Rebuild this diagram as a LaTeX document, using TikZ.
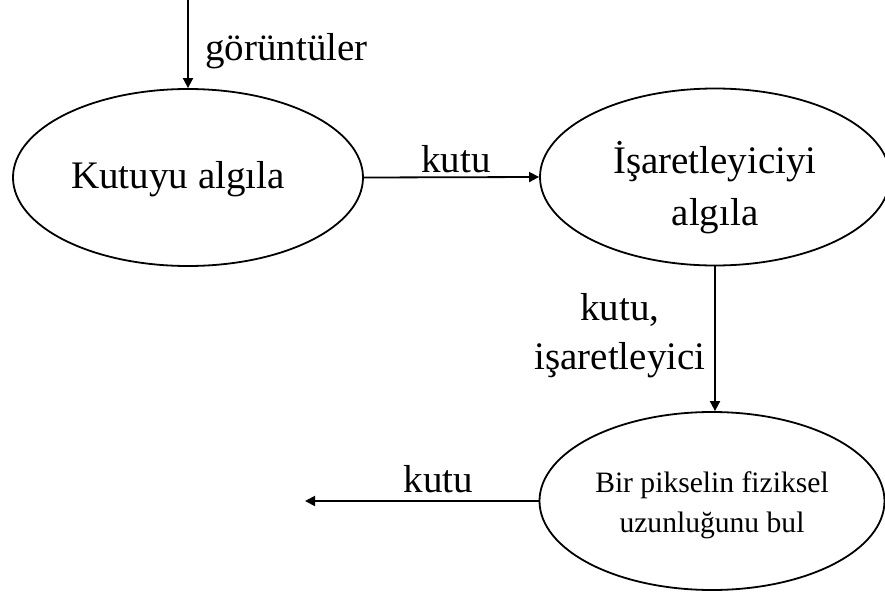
\documentclass[tikz,border=0pt]{standalone}
\usepackage{fontspec}
\setmainfont{Liberation Serif}
\usetikzlibrary{shapes.geometric,arrows.meta}
\begin{document}
\begin{tikzpicture}[x=0.5pt,y=-0.5pt,
  proc/.style={ellipse,draw,line width=0.9pt,minimum width=175pt,minimum height=88.5pt,inner sep=0pt,align=center,font=\fontsize{19.5}{26}\selectfont},
  flow/.style={-{Triangle[length=5pt,width=5pt]},line width=0.9pt},
  lbl/.style={font=\fontsize{19.5}{24.5}\selectfont,inner sep=0pt}]
\useasboundingbox (0,0) rectangle (885,595);
\node[proc] (e1) at (188,177.5) {\rule{0pt}{14.75pt}Kutuyu algıla\hspace*{10pt}};
\node[proc] (e2) at (715,177) {\rule{0pt}{26.25pt}İşaretleyiciyi\\algıla};
\node[proc,minimum width=172.5pt,minimum height=89pt,font=\fontsize{14.8}{20}\selectfont] (e3) at (712,501) {\rule{0pt}{14.2pt}Bir pikselin fiziksel\\uzunluğunu bul};
\coordinate (in) at (188,0);
\coordinate (out) at (305,501);
\draw[flow] (in) -- (e1.north);
\draw[flow] (e1.east) -- (e2.west);
\draw[flow] (e2.south) -- (e2.south |- e3.north);
\draw[flow] (e3.west) -- (out);
\node[lbl,anchor=base west] (l0) at (205,60) {görüntüler};
\node[lbl,anchor=base] (l1) at (456,172) {kutu};
\node[lbl,align=center] (l2) at (620,335.5) {kutu,\\işaretleyici};
\node[lbl,anchor=base] (l3) at (438.5,492) {kutu};
\end{tikzpicture}
\end{document}
